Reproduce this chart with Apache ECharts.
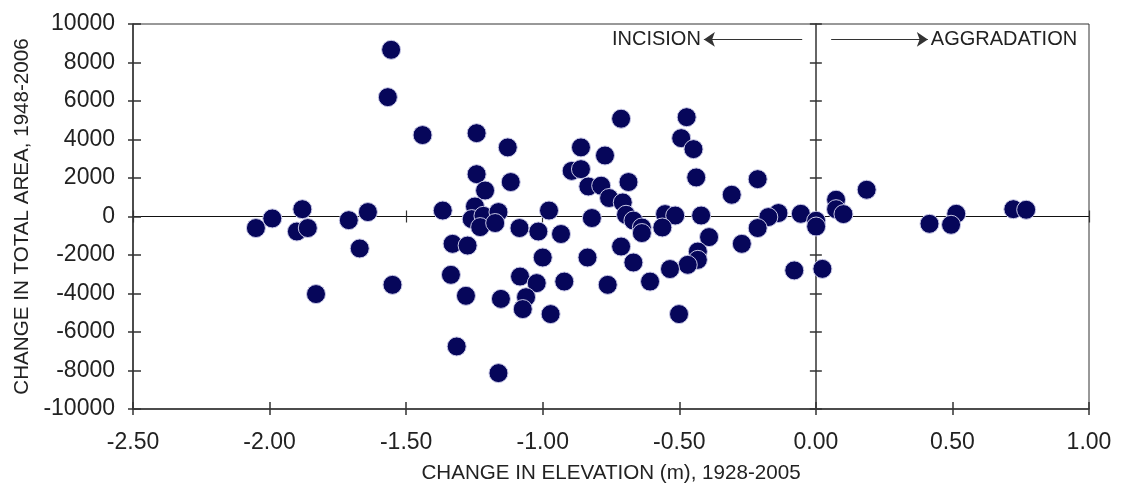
<!DOCTYPE html>
<html><head><meta charset="utf-8">
<script src="https://cdn.jsdelivr.net/npm/echarts@6/dist/echarts.min.js"></script>
<style>html,body{margin:0;padding:0;background:#fff;}#c{width:1124px;height:486px;}</style>
</head><body><div id="c"></div>
<script>
// Change in elevation (m), 1928-2005
const elevationChange = [
 -2.05,-1.99,-1.88,-1.90,-1.86,-1.83,-1.71,-1.64,-1.67,-1.555,
 -1.567,-1.55,-1.44,-1.366,-1.33,-1.275,-1.336,-1.315,-1.281,-1.242,
 -1.242,-1.211,-1.248,-1.26,-1.217,-1.162,-1.229,-1.174,-1.128,-1.117,
 -1.085,-1.016,-0.977,-0.933,-1.0,-1.083,-1.022,-1.061,-1.073,-1.153,
 -1.162,-0.971,-0.921,-0.836,-0.86,-0.894,-0.86,-0.833,-0.786,-0.772,
 -0.82,-0.713,-0.473,-0.493,-0.448,-0.438,-0.686,-0.757,-0.707,-0.308,
 -0.695,-0.668,-0.637,-0.637,-0.552,-0.515,-0.562,-0.42,-0.391,-0.271,
 -0.432,-0.432,-0.469,-0.713,-0.668,-0.534,-0.607,-0.762,-0.501,-0.213,
 -0.137,-0.174,-0.055,-0.213,0.001,0.001,0.074,0.074,0.101,0.186,
 -0.079,0.024,0.416,0.514,0.495,0.723,0.77
];
// Change in total area, 1948-2006
const areaChange = [
 -600,-100,380,-780,-600,-4030,-190,230,-1660,8660,
 6200,-3550,4230,310,-1420,-1510,-3030,-6750,-4120,4330,
 2200,1350,520,-135,36,230,-550,-340,3590,1790,
 -600,-780,310,-910,-2130,-3120,-3460,-4190,-4810,-4280,
 -8135,-5070,-3380,-2130,3590,2370,2460,1560,1600,3170,
 -80,5080,5160,4070,3500,2030,1790,960,730,1130,
 90,-210,-570,-860,125,50,-570,50,-1070,-1420,
 -1820,-2250,-2510,-1560,-2390,-2730,-3380,-3550,-5070,1940,
 180,-30,140,-600,-220,-520,870,380,125,1390,
 -2800,-2720,-380,140,-430,380,350
];
const xTickValues = [-2.5,-2.0,-1.5,-1.0,-0.5,0.0,0.5,1.0];
const yTickValues = [-10000,-8000,-6000,-4000,-2000,0,2000,4000,6000,8000,10000];
const xTitle = 'CHANGE IN ELEVATION (m), 1928-2005';
const yTitle = 'CHANGE IN TOTAL AREA, 1948-2006';
const annotations = [
  {text:'INCISION', from:[-0.05, 9200], to:[-0.41, 9200]},
  {text:'AGGRADATION', from:[0.056, 9200], to:[0.41, 9200]}
];

const FONT = '"Liberation Sans", Arial, sans-serif';
const INK = '#222';
const LINE = '#333';
const xMin = xTickValues[0], xMax = xTickValues[xTickValues.length-1], xInt = xTickValues[1]-xTickValues[0];
const yMin = yTickValues[0], yMax = yTickValues[yTickValues.length-1], yInt = yTickValues[1]-yTickValues[0];

function xAxisDef(opts){
  return Object.assign({
    type:'value', position:'bottom', min:xMin, max:xMax, interval:xInt,
    splitLine:{show:false},
    axisLabel:{show:false},
    axisLine:{show:false, onZero:false, lineStyle:{color:LINE,width:1.5}},
    axisTick:{show:true, inside:false, length:6, lineStyle:{color:LINE,width:1.5}}
  }, opts);
}
function yAxisDef(opts){
  return Object.assign({
    type:'value', position:'left', min:yMin, max:yMax, interval:yInt,
    splitLine:{show:false},
    axisLabel:{show:false},
    axisLine:{show:false, onZero:false, lineStyle:{color:LINE,width:1.5}},
    axisTick:{show:true, inside:false, length:5, lineStyle:{color:LINE,width:1.5}}
  }, opts);
}

const points = elevationChange.map((x,i)=>[x, areaChange[i]]);

const option = {
  backgroundColor:'#fff',
  animation:false,
  grid:{left:133, right:35, top:24, bottom:77, show:true, borderColor:LINE, borderWidth:1, outerBoundsMode:'none'},
  xAxis:[
    xAxisDef({
      axisLine:{show:true, onZero:false, lineStyle:{color:LINE,width:1.5}},
      axisLabel:{show:true, margin:22, color:INK, fontFamily:FONT, fontSize:23, formatter:v=>v.toFixed(2)},
      name:xTitle, nameLocation:'middle', nameGap:54,
      nameTextStyle:{color:INK, fontFamily:FONT, fontSize:20.6}
    }),
    xAxisDef({axisTick:{show:true, inside:true, length:7, lineStyle:{color:LINE,width:1.5}}}),
    xAxisDef({axisLine:{show:true, onZero:true, onZeroAxisIndex:0, lineStyle:{color:'#111',width:1.2}},
              axisTick:{show:true, inside:true, length:6, lineStyle:{color:LINE,width:1.2}}}),
    xAxisDef({axisLine:{show:false, onZero:true, onZeroAxisIndex:0},
              axisTick:{show:true, inside:false, length:6, lineStyle:{color:LINE,width:1.2}}})
  ],
  yAxis:[
    yAxisDef({
      axisLine:{show:true, onZero:false, lineStyle:{color:LINE,width:1.5}},
      axisLabel:{show:true, margin:18, color:INK, fontFamily:FONT, fontSize:23, formatter:v=>String(v)},
      name:yTitle, nameLocation:'middle', nameGap:91, nameRotate:90,
      nameTextStyle:{color:INK, fontFamily:FONT, fontSize:20.6}
    }),
    yAxisDef({axisTick:{show:true, inside:true, length:8, lineStyle:{color:LINE,width:1.5}}}),
    yAxisDef({axisLine:{show:true, onZero:true, onZeroAxisIndex:0, lineStyle:{color:LINE,width:1.5}},
              axisTick:{show:true, inside:true, length:6, lineStyle:{color:LINE,width:1.5}}}),
    yAxisDef({axisLine:{show:false, onZero:true, onZeroAxisIndex:0},
              axisTick:{show:true, inside:false, length:6, lineStyle:{color:LINE,width:1.5}}})
  ],
  series:[{
    type:'scatter', xAxisIndex:0, yAxisIndex:0,
    data:points,
    symbol:'circle', symbolSize:19,
    itemStyle:{color:'#06065a', borderColor:'#c8c8e6', borderWidth:1, opacity:1},
    z:5,
    markLine:{
      silent:true, animation:false,
      symbol:['none','arrow'], symbolSize:11,
      lineStyle:{type:'solid', color:LINE, width:1.2},
      label:{show:true, position:'end', distance:3, color:INK, fontFamily:FONT, fontSize:20,
             formatter:p=>p.name},
      data:annotations.map(a=>[
        {name:a.text, coord:a.from, symbol:'none'},
        {coord:a.to, symbol:'arrow', symbolSize:11}
      ])
    }
  }]
};
const chart = echarts.init(document.getElementById('c'), null, {renderer:'canvas'});
chart.setOption(option);
</script></body></html>
